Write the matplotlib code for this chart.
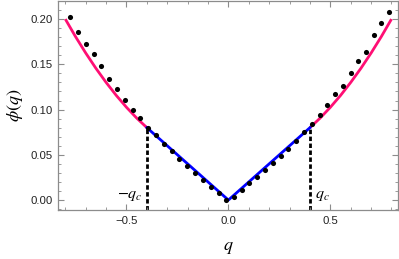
import numpy as np
import matplotlib
matplotlib.use("Agg")
import matplotlib.pyplot as plt
from matplotlib.ticker import MultipleLocator

# ── data ─────────────────────────────────────────────────────────────────
q_c = 0.4

# outer (quadratic) branch, |q| >= q_c
q_outer   = [0.40, 0.45, 0.50, 0.55, 0.60, 0.65, 0.70, 0.75, 0.80]
phi_outer = [0.080, 0.0906, 0.1025, 0.1156, 0.130, 0.1456, 0.1625, 0.1806, 0.200]

# inner (linear) branch, |q| <= q_c
q_inner   = [-0.40, 0.0, 0.40]
phi_inner = [0.080, 0.0, 0.080]

# numerical points
q_pts = [-0.775, -0.738, -0.699, -0.661, -0.624, -0.585, -0.545, -0.507,
         -0.470, -0.432, -0.396, -0.355, -0.318, -0.278, -0.241, -0.203,
         -0.164, -0.125, -0.087, -0.048, -0.010, 0.027, 0.065, 0.102,
         0.140, 0.179, 0.217, 0.256, 0.293, 0.331, 0.370, 0.408, 0.447,
         0.484, 0.522, 0.560, 0.599, 0.638, 0.675, 0.713, 0.751, 0.788]
phi_pts = [0.2028, 0.1856, 0.1727, 0.1614, 0.1485, 0.1339, 0.1232, 0.1111,
           0.0998, 0.0902, 0.0800, 0.0715, 0.0624, 0.0539, 0.0459, 0.0377,
           0.0300, 0.0220, 0.0146, 0.0074, 0.0006, 0.0033, 0.0107, 0.0184,
           0.0253, 0.0330, 0.0410, 0.0492, 0.0569, 0.0657, 0.0751, 0.0844,
           0.0943, 0.1048, 0.1169, 0.1265, 0.1405, 0.1540, 0.1631, 0.1826,
           0.1955, 0.2083]

xticks = [-0.5, 0.0, 0.5]
yticks = [0.00, 0.05, 0.10, 0.15, 0.20]

PINK, BLUE, FRAME = "#FF0F74", "#0000FF", "#8C8C8C"

plt.rcParams["mathtext.fontset"] = "stix"

fig = plt.figure(figsize=(3.99, 2.59), dpi=100)
ax = fig.add_axes([58 / 399, 49 / 259, 340 / 399, 209 / 259])

ymin = -0.011
ax.plot(q_outer, phi_outer, color=PINK, lw=2.0, solid_capstyle="butt", zorder=2)
ax.plot([-q for q in q_outer], phi_outer, color=PINK, lw=2.0, solid_capstyle="butt", zorder=2)
ax.plot(q_inner, phi_inner, color=BLUE, lw=2.0, zorder=2)
ax.plot([-q_c, -q_c], [ymin, phi_inner[0]], color="black", lw=2.0, dashes=(1.6, 0.9), zorder=1)
ax.plot([q_c, q_c], [ymin, phi_inner[-1]], color="black", lw=2.0, dashes=(1.6, 0.9), zorder=1)
ax.plot(q_pts, phi_pts, "o", color="black", ms=3.7, mew=0, zorder=3)

ax.text(-q_c - 0.02, 0.005, r"$-q_c$", ha="right", va="center", fontsize=11.5)
ax.text(q_c + 0.025, 0.005, r"$q_c$", ha="left", va="center", fontsize=11.5)

ax.set_xlim(-0.836, 0.832)
ax.set_ylim(ymin, 0.22)
ax.set_xticks(xticks)
ax.set_yticks(yticks)
ax.set_xticklabels(["\u22120.5", "0.0", "0.5"])
ax.set_yticklabels([f"{v:.2f}" for v in yticks])
ax.xaxis.set_minor_locator(MultipleLocator(0.1))
ax.yaxis.set_minor_locator(MultipleLocator(0.01))
ax.tick_params(which="both", direction="in", top=True, right=True, color=FRAME,
               labelsize=8.2, labelcolor="#222222", pad=4)
ax.tick_params(which="major", length=4, width=0.8)
ax.tick_params(which="minor", length=2, width=0.6)
for lab in ax.get_xticklabels() + ax.get_yticklabels():
    lab.set_family("Liberation Sans")
for s in ax.spines.values():
    s.set_color(FRAME)
    s.set_linewidth(0.9)

ax.set_xlabel(r"$q$", fontsize=13, labelpad=9)
ax.set_ylabel(r"$\phi(q)$", fontsize=13, labelpad=4)

fig.savefig("out.png", dpi=100)
